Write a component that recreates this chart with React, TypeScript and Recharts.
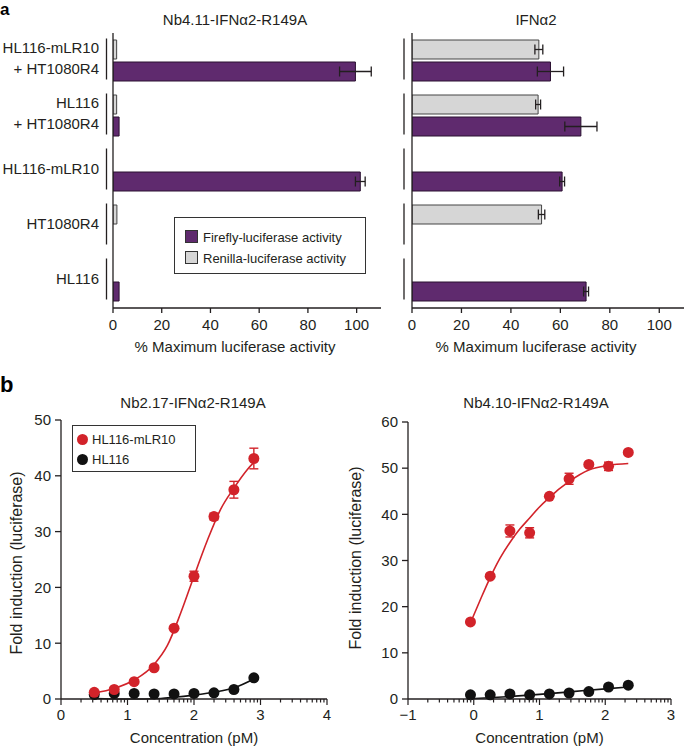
import React from "react";
import { BarChart, Bar, ComposedChart, Line, Scatter, XAxis, YAxis, ErrorBar } from "recharts";

const FONT = '"Liberation Sans", Arial, Helvetica, sans-serif';
const PURPLE = "#5f2a6e";
const GRAY = "#d6d6d6";
const RED = "#d2232a";
const INK = "#231f20";

// panel a: cell mixes (top to bottom)
const cellGroups = ["HL116-mLR10\n+ HT1080R4", "HL116\n+ HT1080R4", "HL116-mLR10", "HT1080R4", "HL116"];
const barTicks = [0, 20, 40, 60, 80, 100];

// Nb4.11-IFNa2-R149A
const nbRenilla = [1.5, 1.5, null, 1.6, null];
const nbRenillaErr = [null, null, null, null, null];
const nbFirefly = [99.5, 2.5, 101.5, null, 2.5];
const nbFireflyErr = [6.5, null, 2, null, null];

// IFNa2
const ifnRenilla = [51.3, 51, null, 52.4, null];
const ifnRenillaErr = [1.6, 1, null, 1.3, null];
const ifnFirefly = [56, 68.3, 60.7, null, 70.4];
const ifnFireflyErr = [5.3, 6.5, 1, null, 1];

// panel b left: Nb2.17-IFNa2-R149A
const b1Conc = [0.5, 0.8, 1.1, 1.4, 1.7, 2.0, 2.3, 2.6, 2.9];
const b1Mlr10 = [1.2, 1.7, 3.1, 5.6, 12.7, 22.0, 32.7, 37.5, 43.1];
const b1Mlr10Err = [null, null, null, null, null, 0.9, 0.6, 1.5, 1.85];
const b1Hl116 = [0.8, 1.0, 1.0, 0.9, 0.9, 1.0, 1.1, 1.7, 3.8];
const b1FitMlr10X = [0.5, 0.8, 1.1, 1.4, 1.6, 1.8, 2.0, 2.2, 2.4, 2.6, 2.8, 2.9];
const b1FitMlr10Y = [1.1, 1.9, 3.4, 6.2, 9.6, 15.4, 22.0, 28.4, 34.0, 37.8, 41.1, 42.4];
const b1FitHl116X = [0.5, 1.0, 1.5, 1.7, 2.0, 2.3, 2.6, 2.9];
const b1FitHl116Y = [0.1, 0.0, 0.1, 0.3, 0.7, 1.2, 2.0, 3.6];
const b1YTicks = [0, 10, 20, 30, 40, 50];

// panel b right: Nb4.10-IFNa2-R149A
const b2Conc = [-0.05, 0.25, 0.55, 0.85, 1.15, 1.45, 1.75, 2.05, 2.35];
const b2Mlr10 = [16.7, 26.6, 36.4, 36.0, 43.9, 47.7, 50.8, 50.4, 53.4];
const b2Mlr10Err = [null, null, 1.3, 1.1, null, 1.2, null, 0.9, null];
const b2Hl116 = [0.9, 0.9, 1.1, 0.9, 1.1, 1.3, 1.6, 2.6, 3.0];
const b2FitMlr10X = [-0.05, 0.1, 0.25, 0.4, 0.55, 0.7, 0.85, 1.0, 1.15, 1.3, 1.45, 1.75, 2.05, 2.35];
const b2FitMlr10Y = [16.5, 21.5, 26.3, 30.5, 33.9, 36.8, 39.2, 41.6, 43.6, 45.5, 47.1, 49.6, 50.6, 51.0];
const b2FitHl116X = [-0.05, 0.5, 1.0, 1.5, 2.0, 2.35];
const b2FitHl116Y = [0.05, 0.5, 1.0, 1.6, 2.2, 2.6];
const b2YTicks = [0, 10, 20, 30, 40, 50, 60];

// log10 minor ticks between the decades
const minorSteps = [2, 3, 4, 5, 6, 7, 8, 9];
function logTicks(from: number, to: number) {
  const t: number[] = [];
  for (let n = from; n < to; n++) {
    t.push(n);
    minorSteps.forEach((k) => t.push(n + Math.log10(k)));
  }
  t.push(to);
  return t;
}

const barRows = (ren: any[], renErr: any[], fire: any[], fireErr: any[]) =>
  cellGroups.map((name, i) => ({
    name,
    renilla: ren[i],
    renillaErr: renErr[i],
    firefly: fire[i],
    fireflyErr: fireErr[i],
  }));

const pts = (xs: number[], ys: number[], errs?: (number | null)[]) =>
  xs.map((x, i) => ({ x, y: ys[i], err: errs ? errs[i] : null }));

const textStyle = { fontFamily: FONT, fill: INK };

// category tick: label lines + bracket line
function GroupTick(props: any) {
  const { x, y, payload, showLabel, bracketGap } = props;
  const lines = showLabel ? String(payload.value).split("\n") : [];
  const bx = x - bracketGap;
  return (
    <g>
      <line x1={bx} x2={bx} y1={y - 22} y2={y + 19} stroke={INK} strokeWidth={1.3} />
      {lines.map((t: string, i: number) => (
        <text
          key={i}
          x={x - 14}
          y={y - 2 + (i - (lines.length - 1) / 2) * 21}
          dy="0.35em"
          textAnchor="end"
          fontSize={15}
          {...textStyle}
        >
          {t}
        </text>
      ))}
    </g>
  );
}

// log axis tick: long + label on decades, short on minors
function LogTick(props: any) {
  const { x, y, payload } = props;
  const v = payload.value;
  const major = Math.abs(v - Math.round(v)) < 1e-6;
  const label = v < 0 ? "\u2212" + Math.abs(Math.round(v)) : String(Math.round(v));
  return (
    <g>
      <line x1={x} x2={x} y1={y} y2={y + (major ? 6 : 3.5)} stroke={INK} strokeWidth={1.2} />
      {major && (
        <text x={x} y={y + 21} textAnchor="middle" fontSize={15} {...textStyle}>
          {label}
        </text>
      )}
    </g>
  );
}

function LuciferaseBars({ rows, width, yWidth, right, showLabel, bracketGap }: any) {
  return (
    <BarChart
      width={width}
      height={360}
      data={rows}
      layout="vertical"
      margin={{ top: 33, right, left: 0, bottom: 0 }}
      barSize={19}
      barGap={3}
    >
      <XAxis
        type="number"
        domain={[0, 110]}
        ticks={barTicks}
        allowDataOverflow
        interval={0}
        height={52}
        tickSize={5}
        tickMargin={6}
        stroke={INK}
        strokeWidth={1.3}
        tick={{ fontSize: 15, ...textStyle }}
      />
      <YAxis
        type="category"
        dataKey="name"
        width={yWidth}
        interval={0}
        tickLine={false}
        tickSize={0}
        tickMargin={0}
        stroke={INK}
        strokeWidth={1.3}
        tick={<GroupTick showLabel={showLabel} bracketGap={bracketGap} />}
      />
      <Bar dataKey="renilla" fill={GRAY} stroke="#444" strokeWidth={1} isAnimationActive={false}>
        <ErrorBar dataKey="renillaErr" direction="x" width={5} stroke={INK} strokeWidth={1.3} />
      </Bar>
      <Bar dataKey="firefly" fill={PURPLE} stroke="#2a1030" strokeWidth={1} isAnimationActive={false}>
        <ErrorBar dataKey="fireflyErr" direction="x" width={5} stroke={INK} strokeWidth={1.3} />
      </Bar>
    </BarChart>
  );
}

const dot = (color: string) => (p: any) => <circle cx={p.cx} cy={p.cy} r={5.5} fill={color} />;

function DoseResponse({ width, yWidth, top, right, domain, yTicks, mlr10, hl116, fitMlr10, fitHl116 }: any) {
  return (
    <ComposedChart width={width} height={367} margin={{ top, right, left: 0, bottom: 0 }}>
      <XAxis
        type="number"
        dataKey="x"
        domain={domain}
        ticks={logTicks(domain[0], domain[1])}
        allowDataOverflow
        interval={0}
        height={48}
        tickLine={false}
        tickSize={0}
        tickMargin={0}
        stroke={INK}
        strokeWidth={1.3}
        tick={<LogTick />}
        label={{ value: "Concentration (pM)", position: "insideBottom", offset: 4, fontSize: 15, ...textStyle }}
      />
      <YAxis
        type="number"
        domain={[yTicks[0], yTicks[yTicks.length - 1]]}
        ticks={yTicks}
        interval={0}
        width={yWidth}
        tickSize={6}
        tickMargin={4}
        stroke={INK}
        strokeWidth={1.3}
        tick={{ fontSize: 15, ...textStyle }}
      />
      <Line data={fitHl116} dataKey="y" type="monotone" stroke="#111" strokeWidth={1.6} dot={false} isAnimationActive={false} />
      <Line data={fitMlr10} dataKey="y" type="monotone" stroke={RED} strokeWidth={1.6} dot={false} isAnimationActive={false} />
      <Scatter data={hl116} dataKey="y" shape={dot("#111")} isAnimationActive={false} />
      <Scatter data={mlr10} dataKey="y" shape={dot(RED)} isAnimationActive={false}>
        <ErrorBar dataKey="err" direction="y" width={4.5} stroke={RED} strokeWidth={1.4} />
      </Scatter>
    </ComposedChart>
  );
}

const abs = (left: number, top: number, extra: any = {}) => ({
  position: "absolute" as const,
  left,
  top,
  ...extra,
});

const centered = (left: number, top: number, size = 15, rotate = 0) =>
  abs(left, top, {
    transform: `translate(-50%, -50%)${rotate ? ` rotate(${rotate}deg)` : ""}`,
    whiteSpace: "nowrap",
    fontSize: size,
    lineHeight: 1,
    color: INK,
  });

function Swatch({ color }: { color: string }) {
  return (
    <span
      style={{
        display: "inline-block",
        width: 11,
        height: 11,
        background: color,
        border: "1px solid #333",
        marginRight: 5,
        verticalAlign: "-1px",
      }}
    />
  );
}

function Dot({ color }: { color: string }) {
  return (
    <span
      style={{
        display: "inline-block",
        width: 11,
        height: 11,
        borderRadius: "50%",
        background: color,
        marginRight: 4,
        verticalAlign: "-1px",
      }}
    />
  );
}

export default function App() {
  return (
    <div style={{ position: "absolute", left: 0, top: 0, width: 685, height: 747, background: "#fff", fontFamily: FONT, overflow: "hidden" }}>
      <div style={abs(0, 0, { fontSize: 17, fontWeight: "bold" })}>a</div>
      <div style={abs(0, 374, { fontSize: 22, fontWeight: "bold", lineHeight: 1 })}>b</div>

      <div style={centered(235, 19)}>Nb4.11-IFN{"\u03b1"}2-R149A</div>
      <div style={centered(536, 19)}>IFN{"\u03b1"}2</div>

      <div style={abs(0, 0)}>
        <LuciferaseBars
          rows={barRows(nbRenilla, nbRenillaErr, nbFirefly, nbFireflyErr)}
          width={395}
          yWidth={113}
          right={14}
          showLabel
          bracketGap={6.5}
        />
      </div>
      <div style={abs(380, 0)}>
        <LuciferaseBars
          rows={barRows(ifnRenilla, ifnRenillaErr, ifnFirefly, ifnFireflyErr)}
          width={305}
          yWidth={32}
          right={1}
          showLabel={false}
          bracketGap={8}
        />
      </div>

      <div style={centered(235, 346)}>% Maximum luciferase activity</div>
      <div style={centered(536, 346)}>% Maximum luciferase activity</div>

      <div
        style={abs(174, 217, {
          width: 192,
          height: 57,
          border: "1px solid #333",
          fontSize: 13,
          color: INK,
          lineHeight: "21px",
          padding: "9px 0 0 10px",
          boxSizing: "border-box",
        })}
      >
        <div><Swatch color={PURPLE} />Firefly-luciferase activity</div>
        <div><Swatch color={GRAY} />Renilla-luciferase activity</div>
      </div>

      <div style={centered(193, 402)}>Nb2.17-IFN{"\u03b1"}2-R149A</div>
      <div style={centered(536, 402)}>Nb4.10-IFN{"\u03b1"}2-R149A</div>

      <div style={abs(0, 380)}>
        <DoseResponse
          width={340}
          yWidth={61}
          top={40}
          right={13}
          domain={[0, 4]}
          yTicks={b1YTicks}
          mlr10={pts(b1Conc, b1Mlr10, b1Mlr10Err)}
          hl116={pts(b1Conc, b1Hl116)}
          fitMlr10={pts(b1FitMlr10X, b1FitMlr10Y)}
          fitHl116={pts(b1FitHl116X, b1FitHl116Y)}
        />
      </div>
      <div style={abs(340, 380)}>
        <DoseResponse
          width={345}
          yWidth={68}
          top={42}
          right={14}
          domain={[-1, 3]}
          yTicks={b2YTicks}
          mlr10={pts(b2Conc, b2Mlr10, b2Mlr10Err)}
          hl116={pts(b2Conc, b2Hl116)}
          fitMlr10={pts(b2FitMlr10X, b2FitMlr10Y)}
          fitHl116={pts(b2FitHl116X, b2FitHl116Y)}
        />
      </div>

      <div style={centered(16.5, 563, 16, -90)}>Fold induction (luciferase)</div>
      <div style={centered(356, 558, 16, -90)}>Fold induction (luciferase)</div>

      <div
        style={abs(72, 425, {
          width: 124,
          height: 47,
          border: "1px solid #333",
          fontSize: 13,
          color: INK,
          lineHeight: "20px",
          padding: "4px 0 0 4px",
          boxSizing: "border-box",
        })}
      >
        <div><Dot color={RED} />HL116-mLR10</div>
        <div><Dot color="#111" />HL116</div>
      </div>
    </div>
  );
}
